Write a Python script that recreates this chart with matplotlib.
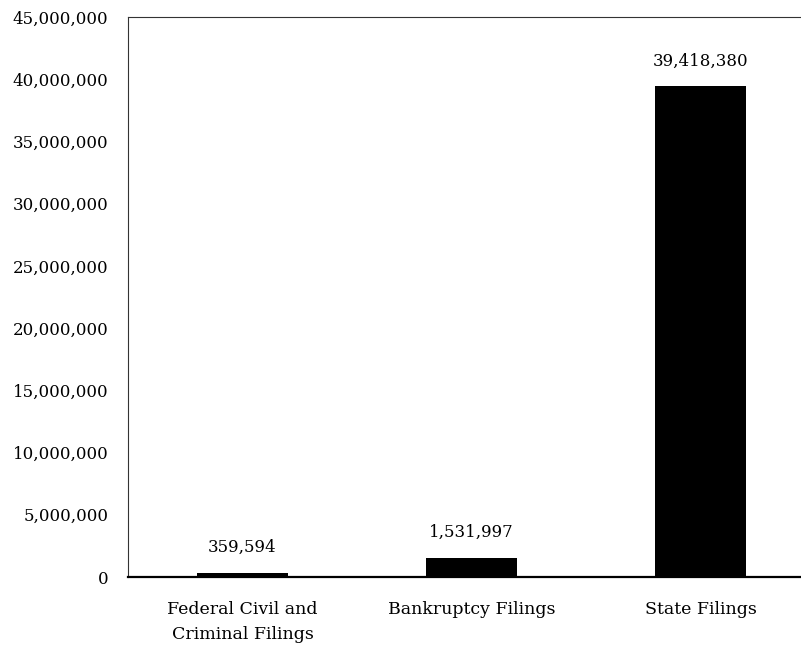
import numpy as np
from matplotlib import pyplot as plt

categories = ['Federal Civil and\nCriminal Filings', 'Bankruptcy Filings', 'State Filings']
filings = [359594, 1531997, 39418380]

plt.rcParams['font.family'] = ['DejaVu Serif']
plt.rcParams['font.size'] = 12

fig = plt.figure(figsize=(8.01, 6.46), dpi=100)
# axes run past the right edge of the figure
ax = fig.add_axes([128/801, 69/646, 687/801, 560/646])

x = np.arange(len(categories))
bars = ax.bar(x, filings, width=0.4, color='black')

for xi, v in zip(x, filings):
    ax.annotate(f'{v:,}', (xi, v), xytext=(0, 12), textcoords='offset points',
                ha='center', va='bottom', fontsize=12)

ax.set_xlim(-0.5, 2.5)
ax.set_ylim(0, 45000000)
ax.set_yticks(np.arange(0, 45000001, 5000000))
ax.yaxis.set_major_formatter(plt.FuncFormatter(lambda v, p: f'{int(v):,}'))
ax.set_xticks(x)
ax.set_xticklabels(categories, fontsize=12.5, linespacing=1.65)
ax.tick_params(axis='y', length=0, pad=14)
ax.tick_params(axis='x', length=0, pad=17)

ax.spines['right'].set_visible(False)
ax.spines['top'].set_color('#333333')
ax.spines['left'].set_color('#333333')
ax.spines['bottom'].set_linewidth(1.6)

plt.savefig('out.png', dpi=100)
